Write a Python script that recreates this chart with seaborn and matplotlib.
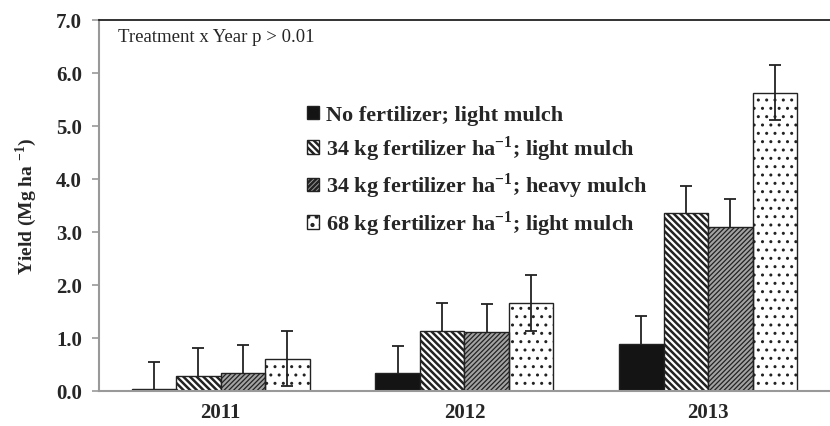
import pandas as pd
import numpy as np
import matplotlib
matplotlib.use("Agg")
import matplotlib.pyplot as plt
import seaborn as sns

# Data
years = ["2011", "2012", "2013"]
treatments = [
    "No fertilizer; light mulch",
    r"34 kg fertilizer ha$^{\mathbf{-1}}$; light mulch",
    r"34 kg fertilizer ha$^{\mathbf{-1}}$; heavy mulch",
    r"68 kg fertilizer ha$^{\mathbf{-1}}$; light mulch",
]
no_fert_light = [0.03, 0.33, 0.89]
fert34_light = [0.28, 1.14, 3.36]
fert34_heavy = [0.34, 1.12, 3.10]
fert68_light = [0.61, 1.66, 5.63]
no_fert_light_err = [0.52, 0.52, 0.52]
fert34_light_err = [0.53, 0.52, 0.51]
fert34_heavy_err = [0.53, 0.52, 0.52]
fert68_light_err = [0.52, 0.52, 0.52]

values = [no_fert_light, fert34_light, fert34_heavy, fert68_light]
errors = [no_fert_light_err, fert34_light_err, fert34_heavy_err, fert68_light_err]

rows = []
for t, vals, errs in zip(treatments, values, errors):
    for y, v, e in zip(years, vals, errs):
        rows.append({"year": y, "treatment": t, "yield": v, "err": e})
df = pd.DataFrame(rows)

sns.set_style("white")
plt.rcParams["font.family"] = ["Liberation Serif", "DejaVu Serif"]
plt.rcParams["mathtext.fontset"] = "custom"
plt.rcParams["mathtext.rm"] = "Liberation Serif:bold"
plt.rcParams["mathtext.bf"] = "Liberation Serif:bold"
plt.rcParams["hatch.linewidth"] = 1.8

fig = plt.figure(figsize=(8.3, 4.27), dpi=100)
ax = fig.add_axes([0.119, 0.082, 0.881, 0.869])

sns.barplot(data=df, x="year", y="yield", hue="treatment", order=years,
            hue_order=treatments, width=0.73, gap=0, legend=False,
            errorbar=None, ax=ax, zorder=2)

# black / white stripes / grey stripes / dotted (transparent so the lower
# half of the error bar shows through, like the original)
faces = ["#141414", "white", "#a3a3a3", (1, 1, 1, 0)]
hatches = [None, "\\\\\\\\\\", "///////", ".."]
hatch_lw = [1.0, 1.8, 0.9, 1.0]
for cont, fc, h, hlw, errs in zip(ax.containers, faces, hatches, hatch_lw, errors):
    for patch in cont.patches:
        patch.set_facecolor(fc)
        patch.set_edgecolor("#222222")
        patch.set_linewidth(1.0)
        if h:
            patch.set_hatch(h)
            if hasattr(patch, "set_hatch_linewidth"):
                patch.set_hatch_linewidth(hlw)
    xs = [p.get_x() + p.get_width() / 2 for p in cont.patches]
    hs = [p.get_height() for p in cont.patches]
    ax.errorbar(xs, hs, yerr=errs, fmt="none", ecolor="#222222",
                elinewidth=1.3, capsize=4, capthick=1.3, zorder=1)

ax.set_ylim(0, 7)
ax.set_xlim(-0.5, 2.46)
ax.set_yticks(np.arange(0, 7.01, 1.0))
ax.set_yticklabels([f"{v:.1f}" for v in np.arange(0, 7.01, 1.0)],
                   fontsize=15, fontweight="bold")
ax.set_xticks([0, 1, 2])
ax.set_xticklabels(years, fontsize=15, fontweight="bold")
ax.set_xticks([-0.5, 0.5, 1.5, 2.5], minor=True)
ax.tick_params(axis="x", which="major", length=0, pad=8)
ax.tick_params(axis="x", which="minor", length=5, width=1.2, color="#999999",
               direction="out")
ax.tick_params(axis="y", length=5, width=1.2, color="#999999", direction="out",
               left=True, pad=7)
ax.set_xlabel("")
ax.set_ylabel(r"Yield (Mg ha $^{\mathbf{-1}}$)", fontsize=14,
              fontweight="bold", labelpad=12)

for s in ["left", "bottom"]:
    ax.spines[s].set_color("#999999")
    ax.spines[s].set_linewidth(1.5)
ax.spines["top"].set_color("#222222")
ax.spines["top"].set_linewidth(1.3)
ax.spines["right"].set_visible(False)

ax.text(0.026, 0.955, "Treatment x Year p > 0.01", transform=ax.transAxes,
        fontsize=13.5, va="center", ha="left")

leg = ax.legend(ax.containers, treatments, loc="upper left",
                bbox_to_anchor=(0.285, 0.77), frameon=False,
                prop={"weight": "bold", "size": 16}, handlelength=0.55,
                handleheight=0.55, handletextpad=0.3, labelspacing=0.36,
                borderaxespad=0, borderpad=0)

plt.savefig("out.png", dpi=100)
